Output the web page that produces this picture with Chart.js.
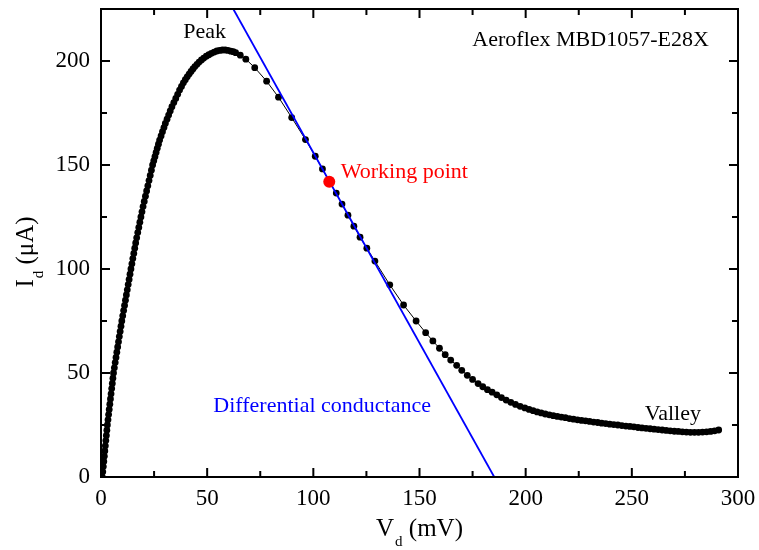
<!DOCTYPE html>
<html>
<head>
<meta charset="utf-8">
<script src="https://cdn.jsdelivr.net/npm/chart.js@4.4.0/dist/chart.umd.min.js"></script>
<style>
  body { margin: 0; background: #fff; }
  #wrap { width: 759px; height: 550px; position: relative; }
</style>
</head>
<body>
<div id="wrap"><canvas id="ivChart"></canvas></div>
<script>
// measured I-V curve, Vd in mV, Id in uA
const vd = [
  0.6, 0.84, 1.08, 1.32, 1.56, 1.8, 2.04, 2.28, 2.52, 2.76, 3.0,
  3.29, 3.58, 3.87, 4.16, 4.45, 4.74, 5.03, 5.32, 5.61, 5.9,
  6.29, 6.68, 7.07, 7.46, 7.85, 8.24, 8.63, 9.02, 9.41, 9.8,
  10.23, 10.66, 11.09, 11.52, 11.95, 12.38, 12.81, 13.24, 13.67, 14.1,
  14.55, 14.99, 15.44, 15.89, 16.33, 16.8, 17.3, 17.8, 18.3, 18.8,
  19.3, 19.8, 20.36, 20.93, 21.49, 22.05, 22.61, 23.18, 23.74, 24.3,
  24.85, 25.4, 25.95, 26.5, 27.05, 27.6, 28.3, 28.95, 29.65, 30.3,
  31.1, 31.85, 32.6, 33.4, 34.3, 35.2, 36.1,
  37.0, 37.9, 38.8, 39.7, 40.6, 41.5, 42.4, 43.3, 44.2, 45.2, 46.2, 47.3,
  48.4, 49.6, 50.8, 52.0, 53.3, 54.6, 55.9, 57.2, 58.5, 59.8, 61.1, 62.3,
  63.4, 65.6, 68.2, 72.4, 78.0, 83.6, 89.8, 96.3, 100.9, 104.3,
  107.5, 110.8, 113.5, 116.3, 119.1, 122.0, 125.2, 129.0, 136.0, 142.5,
  148.4, 152.9, 156.3, 159.4, 162.1, 164.7, 167.5, 169.9, 172.5, 175.0,
  177.6, 179.8, 182.0, 184.2, 186.4, 188.6, 190.8, 193.0, 195.2, 197.4,
  199.6, 201.6, 203.5, 205.4, 207.3, 209.2, 211.1, 213.0, 214.9, 216.8,
  218.7, 220.6, 222.5, 224.4, 226.3, 228.2, 230.1, 232.0, 233.9, 235.8,
  237.7, 239.6, 241.5, 243.4, 245.3, 247.2, 249.1, 251.0, 252.9, 254.8,
  256.7, 258.6, 260.5, 262.4, 264.3, 266.2, 268.1, 270.0, 271.9, 273.8,
  275.7, 277.6, 279.5, 281.4, 283.3, 285.2, 287.1, 289.0, 290.9
];
const id = [
  0, 2.5, 5, 7.5, 10, 12.5, 15, 17.5, 20, 22.5, 25,
  27.5, 30, 32.5, 35, 37.5, 40, 42.5, 45, 47.5, 50,
  52.5, 55, 57.5, 60, 62.5, 65, 67.5, 70, 72.5, 75,
  77.5, 80, 82.5, 85, 87.5, 90, 92.5, 95, 97.5, 100,
  102.5, 105, 107.5, 110, 112.5, 115, 117.5, 120, 122.5, 125,
  127.5, 130, 132.5, 135, 137.5, 140, 142.5, 145, 147.5, 150,
  152, 154, 156, 158, 160, 162, 164, 166, 168, 170,
  172, 174, 176, 178, 180, 182, 184,
  186.0, 187.8, 189.5, 191.0, 192.4, 193.7, 195.0, 196.2, 197.3, 198.4, 199.5, 200.5,
  201.4, 202.3, 203.0, 203.7, 204.3, 204.8, 205.1, 205.3, 205.3, 205.1, 204.7, 204.5,
  204.0, 202.8, 200.9, 196.8, 190.3, 182.6, 172.8, 162.2, 154.2, 148.1,
  141.9, 136.5, 131.2, 125.9, 120.6, 115.3, 110.0, 103.8, 92.4, 82.7,
  75.0, 69.4, 65.4, 61.9, 58.8, 56.2, 53.7, 51.3, 48.9, 46.9,
  44.9, 43.4, 42.0, 40.8, 39.5, 38.2, 37.0, 35.9, 34.9, 34.0,
  33.2, 32.5, 31.9, 31.3, 30.8, 30.3, 29.9, 29.5, 29.1, 28.8,
  28.5, 28.1, 27.8, 27.5, 27.2, 27.0, 26.7, 26.4, 26.2, 25.9,
  25.7, 25.4, 25.2, 25.0, 24.7, 24.5, 24.3, 24.1, 23.8, 23.6,
  23.4, 23.2, 23.0, 22.8, 22.6, 22.4, 22.2, 22.0, 21.9, 21.7,
  21.6, 21.5, 21.5, 21.5, 21.6, 21.7, 21.9, 22.2, 22.6
];

// working point and tangent (differential conductance)
const workV = [107.5];
const workI = [141.9];
const tangentV = [62.3, 185.2];
const tangentI = [225, 0];

// ticks
const xMajor = [0, 50, 100, 150, 200, 250, 300];
const xMinor = [25, 75, 125, 175, 225, 275];
const yMajor = [0, 50, 100, 150, 200];
const yMinor = [25, 75, 125, 175, 225];

// text on the plot (left edge, baseline, in data units)
const noteText = ['Peak', 'Aeroflex MBD1057-E28X', 'Working point', 'Differential conductance', 'Valley'];
const noteV = [38.7, 174.9, 112.9, 52.9, 256.1];
const noteI = [210.9, 207.2, 143.6, 31.3, 27.3];
const noteColor = ['#000000', '#000000', '#ff0000', '#0000ff', '#000000'];

const serif = "'Liberation Serif', 'Times New Roman', serif";

const frameTicks = {
  id: 'frameTicks',
  afterDatasetsDraw(chart) {
    const { ctx, chartArea: a, scales: { x, y } } = chart;
    ctx.save();
    ctx.strokeStyle = '#000';
    ctx.lineWidth = 2;
    ctx.strokeRect(a.left, a.top, a.right - a.left, a.bottom - a.top);
    ctx.beginPath();
    const xt = (vals, len) => vals.forEach(v => {
      const px = x.getPixelForValue(v);
      ctx.moveTo(px, a.bottom); ctx.lineTo(px, a.bottom - len);
      ctx.moveTo(px, a.top); ctx.lineTo(px, a.top + len);
    });
    const yt = (vals, len) => vals.forEach(v => {
      const py = y.getPixelForValue(v);
      ctx.moveTo(a.left, py); ctx.lineTo(a.left + len, py);
      ctx.moveTo(a.right, py); ctx.lineTo(a.right - len, py);
    });
    xt(xMajor, 9); xt(xMinor, 6);
    yt(yMajor, 9); yt(yMinor, 6);
    ctx.stroke();
    ctx.restore();
  }
};

const notes = {
  id: 'notes',
  afterDraw(chart) {
    const { ctx, scales: { x, y } } = chart;
    ctx.save();
    ctx.font = '22px ' + serif;
    ctx.textAlign = 'left';
    ctx.textBaseline = 'alphabetic';
    noteText.forEach((t, i) => {
      ctx.fillStyle = noteColor[i];
      ctx.fillText(t, x.getPixelForValue(noteV[i]), y.getPixelForValue(noteI[i]));
    });
    ctx.restore();
  }
};

// axis titles with subscripts
function drawTitle(ctx, main, sub, rest) {
  ctx.font = '25px ' + serif;
  const w1 = ctx.measureText(main).width;
  const w3 = ctx.measureText(rest).width;
  ctx.font = '15px ' + serif;
  const w2 = ctx.measureText(sub).width;
  const total = w1 + w2 + w3 + 1;
  let cx = -total / 2;
  ctx.font = '25px ' + serif;
  ctx.fillText(main, cx, 0);
  cx += w1 + 1;
  ctx.font = '15px ' + serif;
  ctx.fillText(sub, cx, 10);
  cx += w2;
  ctx.font = '25px ' + serif;
  ctx.fillText(rest, cx, 0);
}

const axisTitles = {
  id: 'axisTitles',
  afterDraw(chart) {
    const { ctx, chartArea: a } = chart;
    ctx.save();
    ctx.fillStyle = '#000';
    ctx.textAlign = 'left';
    ctx.textBaseline = 'alphabetic';
    ctx.save();
    ctx.translate((a.left + a.right) / 2, 536);
    drawTitle(ctx, 'V', 'd', ' (mV)');
    ctx.restore();
    ctx.save();
    ctx.translate(33, 252);
    ctx.rotate(-Math.PI / 2);
    drawTitle(ctx, 'I', 'd', ' (\u03bcA)');
    ctx.restore();
    ctx.restore();
  }
};

// drop the label overhang padding so the plot box sits where the reference has it
const noOverhang = s => {
  s.paddingTop = 0; s.paddingBottom = 0; s.paddingLeft = 0; s.paddingRight = 0;
};

const ctx = document.getElementById('ivChart');
new Chart(ctx, {
  type: 'scatter',
  data: {
    datasets: [
      {
        label: 'Working point',
        data: workV.map((v, i) => ({ x: v, y: workI[i] })),
        pointRadius: 6,
        pointBackgroundColor: '#ff0000',
        pointBorderWidth: 0,
        showLine: false,
        order: 0
      },
      {
        label: 'Differential conductance',
        data: tangentV.map((v, i) => ({ x: v, y: tangentI[i] })),
        showLine: true,
        borderColor: '#0000ff',
        borderWidth: 1.8,
        pointRadius: 0,
        order: 1
      },
      {
        label: 'Id',
        data: vd.map((v, i) => ({ x: v, y: id[i] })),
        showLine: true,
        borderColor: '#000000',
        borderWidth: 1,
        pointRadius: 3.4,
        pointBackgroundColor: '#000000',
        pointBorderWidth: 0,
        order: 2
      }
    ]
  },
  options: {
    responsive: true,
    maintainAspectRatio: false,
    animation: false,
    layout: { padding: { top: 9, right: 21, bottom: 0, left: 0 } },
    plugins: { legend: { display: false }, tooltip: { enabled: false } },
    scales: {
      x: {
        type: 'linear',
        min: 0,
        max: 300,
        grid: { display: false, drawTicks: false },
        border: { display: false },
        ticks: { stepSize: 50, color: '#000', padding: 8, font: { family: serif, size: 23 }, maxRotation: 0 },
        afterFit: s => { s.height = 73; noOverhang(s); }
      },
      y: {
        min: 0,
        max: 225,
        grid: { display: false, drawTicks: false },
        border: { display: false },
        ticks: {
          stepSize: 50,
          color: '#000',
          padding: 11,
          font: { family: serif, size: 23 },
          callback: v => (v % 50 === 0 ? v : '')
        },
        afterFit: s => { s.width = 101; noOverhang(s); }
      }
    }
  },
  plugins: [frameTicks, notes, axisTitles]
});
</script>
</body>
</html>
